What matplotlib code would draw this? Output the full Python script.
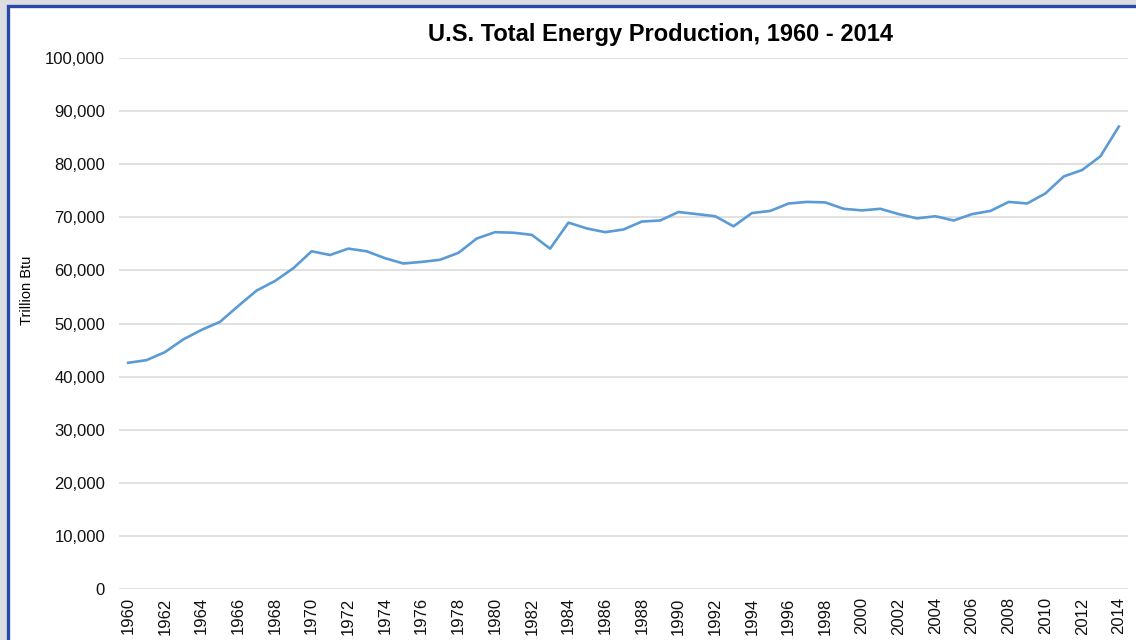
import matplotlib.pyplot as plt
from matplotlib.patches import Rectangle
from matplotlib.ticker import FuncFormatter

plt.rcParams['font.family'] = ['Liberation Sans', 'DejaVu Sans']

years = list(range(1960, 2015))
# U.S. total energy production, trillion Btu
production = [
    42600, 43100, 44600, 47000, 48800, 50300, 53300, 56200, 58000, 60400,
    63600, 62900, 64100, 63600, 62300, 61300, 61600, 62000, 63300, 66000,
    67200, 67100, 66700, 64100, 69000, 67900, 67200, 67700, 69200, 69400,
    71000, 70600, 70200, 68300, 70800, 71200, 72600, 72900, 72800, 71600,
    71300, 71600, 70600, 69800, 70200, 69400, 70600, 71200, 72900, 72600,
    74500, 77700, 78900, 81500, 87100,
]
tick_years = years[::2]

W, H = 1136, 640
fig = plt.figure(figsize=(W / 100, H / 100), dpi=100, facecolor='#dcdde0')

# white panel with blue frame (extends past right/bottom edges)
fig.patches.append(Rectangle((8 / W, -0.1), 1.2, (H - 6) / H + 0.1,
                             transform=fig.transFigure, facecolor='white',
                             edgecolor='#2a48a6', linewidth=2.4, zorder=-5))

ax = fig.add_axes([119 / W, 1 - 589 / H, (1128 - 119) / W, (589 - 58) / H])
ax.set_facecolor('white')
ax.patch.set_alpha(0)

ax.plot(years, production, color='#5b9bd5', linewidth=1.9, zorder=3)

ax.set_xlim(1959.5, 2014.5)
ax.set_ylim(0, 100000)
ax.set_yticks(range(0, 100001, 10000))
ax.yaxis.set_major_formatter(FuncFormatter(lambda v, p: f"{int(v):,}"))
ax.set_xticks(tick_years)
ax.set_xticklabels([str(y) for y in tick_years], rotation=90)

ax.grid(axis='y', color='#d9d9d9', linewidth=1.1)
ax.set_axisbelow(True)
for s in ax.spines.values():
    s.set_visible(False)
ax.tick_params(axis='both', length=0, labelsize=12, colors='#111111')
ax.tick_params(axis='y', pad=10)
ax.tick_params(axis='x', pad=6)

fig.text(27 / W, 1 - 290 / H, 'Trillion Btu', rotation=90, ha='center',
         va='center', fontsize=10.5)
fig.text(660 / W, 1 - 35 / H, 'U.S. Total Energy Production, 1960 - 2014',
         ha='center', va='center', fontsize=17, fontweight='bold')

fig.savefig('out.png', dpi=100, facecolor=fig.get_facecolor())
